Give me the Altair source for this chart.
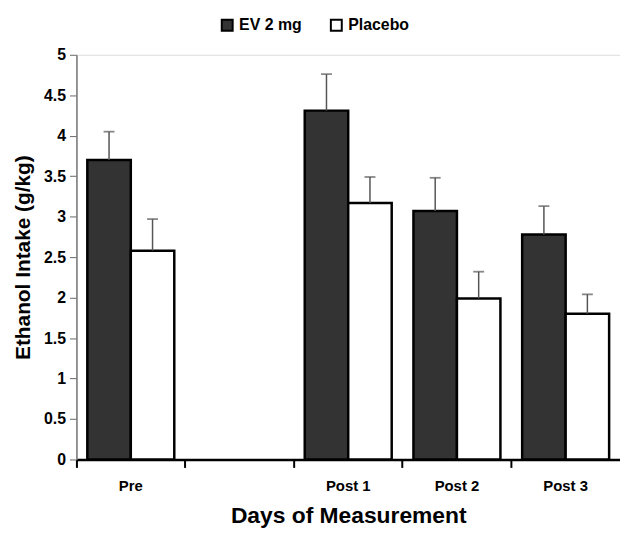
import altair as alt
import pandas as pd

days = ["Pre", "Post 1", "Post 2", "Post 3"]
axis_domain = ["Pre", " ", "Post 1", "Post 2", "Post 3"]
groups = ["EV 2 mg", "Placebo"]
ev = [3.70, 4.31, 3.07, 2.78]
ev_err = [0.35, 0.45, 0.41, 0.35]
pl = [2.58, 3.17, 1.99, 1.80]
pl_err = [0.39, 0.32, 0.33, 0.24]

rows = []
for i, d in enumerate(days):
    rows.append({"Day": d, "Group": groups[0], "Value": ev[i], "Top": ev[i] + ev_err[i]})
    rows.append({"Day": d, "Group": groups[1], "Value": pl[i], "Top": pl[i] + pl_err[i]})
df = pd.DataFrame(rows)

FONT = "Liberation Sans"
W = 548

x = alt.X(
    "Day:N",
    scale=alt.Scale(domain=axis_domain, paddingInner=0, paddingOuter=0),
    sort=axis_domain,
    axis=alt.Axis(
        title="Days of Measurement",
        labelAngle=0,
        bandPosition=0,
        tickSize=8,
        tickWidth=2,
        tickColor="black",
        domainColor="black",
        domainWidth=2.5,
        labelPadding=11,
        labelFont=FONT,
        labelFontSize=15,
        labelFontWeight="bold",
        labelColor="black",
        titleFont=FONT,
        titleFontSize=23,
        titleFontWeight="bold",
        titleColor="black",
        titlePadding=12,
    ),
)
xo = alt.XOffset("Group:N", scale=alt.Scale(domain=groups, paddingOuter=0.25, paddingInner=0))

bars = alt.Chart(df).mark_bar(stroke="black", strokeWidth=2.5).encode(
    x=x,
    xOffset=xo,
    y=alt.Y(
        "Value:Q",
        scale=alt.Scale(domain=[0, 5], nice=False),
        axis=alt.Axis(
            title="Ethanol Intake (g/kg)",
            values=[0, 0.5, 1, 1.5, 2, 2.5, 3, 3.5, 4, 4.5, 5],
            format="~g",
            grid=False,
            tickSize=7,
            tickColor="#666666",
            domainColor="#777777",
            domainWidth=1.5,
            labelPadding=4,
            labelFont=FONT,
            labelFontSize=16,
            labelFontWeight="bold",
            labelColor="black",
            titleFont=FONT,
            titleFontSize=21,
            titleFontWeight="bold",
            titleColor="black",
            titlePadding=10,
        ),
    ),
    fill=alt.Fill(
        "Group:N",
        scale=alt.Scale(domain=groups, range=["#333333", "#ffffff"]),
        legend=alt.Legend(
            title=None,
            orient="none",
            direction="horizontal",
            legendX=144,
            legendY=-38,
            symbolType="square",
            symbolSize=121,
            symbolStrokeColor="black",
            symbolStrokeWidth=2,
            labelFont=FONT,
            labelFontSize=16,
            labelFontWeight="bold",
            labelColor="black",
            columnPadding=24,
            labelOffset=4,
        ),
    ),
)

err = alt.Chart(df).mark_rule(color="#555555", strokeWidth=1.5).encode(
    x=x, xOffset=xo, y="Value:Q", y2="Top:Q"
)
caps = alt.Chart(df).mark_tick(color="#555555", thickness=1.8, size=11).encode(
    x=x, xOffset=xo, y="Top:Q"
)

chart = (
    alt.layer(bars, err, caps)
    .properties(
        width=W,
        height=408,
        autosize=alt.AutoSizeParams(type="none"),
        padding={"left": 69, "top": 45, "right": 0, "bottom": 75},
    )
    .configure_view(stroke=None)
    .configure(background="white")
)

chart.save("out.html", embed_options={"renderer": "svg", "actions": False})
